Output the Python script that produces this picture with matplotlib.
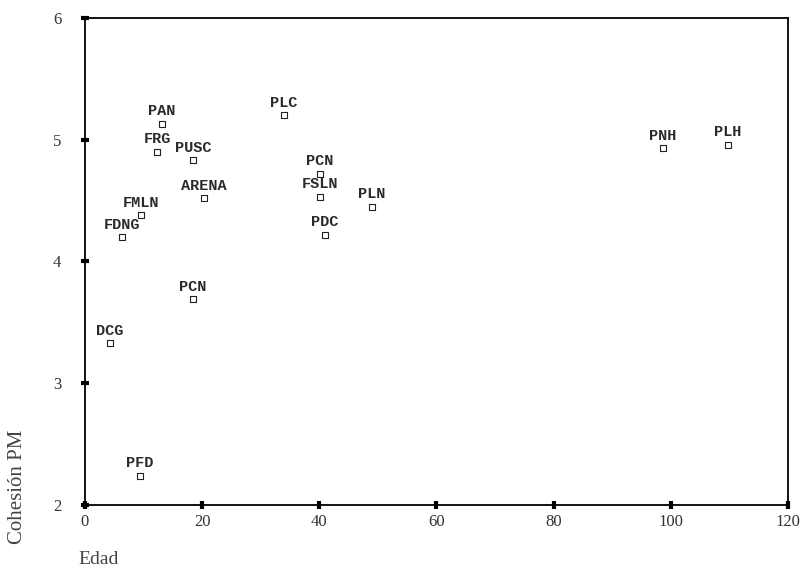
import matplotlib
matplotlib.use('Agg')
import matplotlib.pyplot as plt

# party names, age (Edad) and cohesion (Cohesión PM)
parties = ['PAN', 'FRG', 'PUSC', 'ARENA', 'FMLN', 'FDNG', 'PLC', 'PCN', 'FSLN',
           'PLN', 'PDC', 'PCN', 'DCG', 'PFD', 'PNH', 'PLH']
edad = [13.1, 12.3, 18.4, 20.3, 9.6, 6.3, 34.0, 40.1, 40.1,
        49.0, 41.0, 18.4, 4.3, 9.4, 98.7, 109.8]
cohesion = [5.13, 4.90, 4.83, 4.52, 4.38, 4.20, 5.20, 4.72, 4.53,
            4.45, 4.22, 3.69, 3.33, 2.24, 4.93, 4.96]

x_ticks = [0, 20, 40, 60, 80, 100, 120]
y_ticks = [2, 3, 4, 5, 6]
y_ticklabels = ['2', '3', '4', '5', '6']

fig = plt.figure(figsize=(8.04, 5.73), dpi=100)
ax = fig.add_axes([0.1057, 0.1187, 0.8743, 0.8499])

ax.scatter(edad, cohesion, marker='s', s=13, facecolors='white',
           edgecolors='#222222', linewidths=0.8, zorder=3)

for name, x, y in zip(parties, edad, cohesion):
    ax.annotate(name, (x, y), xytext=(0, 4), textcoords='offset points',
                ha='center', va='bottom', fontsize=11, fontweight='bold',
                family='Liberation Mono', color='#2a2a2a')

ax.set_xlim(0, 120)
ax.set_ylim(2, 6)
ax.set_xticks(x_ticks)
ax.set_yticks(y_ticks)
ax.set_yticklabels(y_ticklabels)
ax.tick_params(direction='inout', length=6, width=3, labelsize=12,
               colors='black')
ax.tick_params(axis='y', pad=14)
for lbl in ax.get_xticklabels() + ax.get_yticklabels():
    lbl.set_family('Liberation Serif')
    lbl.set_color('#333333')
for sp in ax.spines.values():
    sp.set_linewidth(1.3)

fig.text(18 / 804, 1 - 487 / 573, 'Cohesión PM', rotation=90, ha='center',
         va='center', fontsize=15, family='Liberation Serif', color='#444444')
fig.text(78 / 804, 1 - 560 / 573, 'Edad', ha='left', va='center',
         fontsize=14, family='Liberation Serif', color='#444444')

fig.savefig('out.png', dpi=100)
